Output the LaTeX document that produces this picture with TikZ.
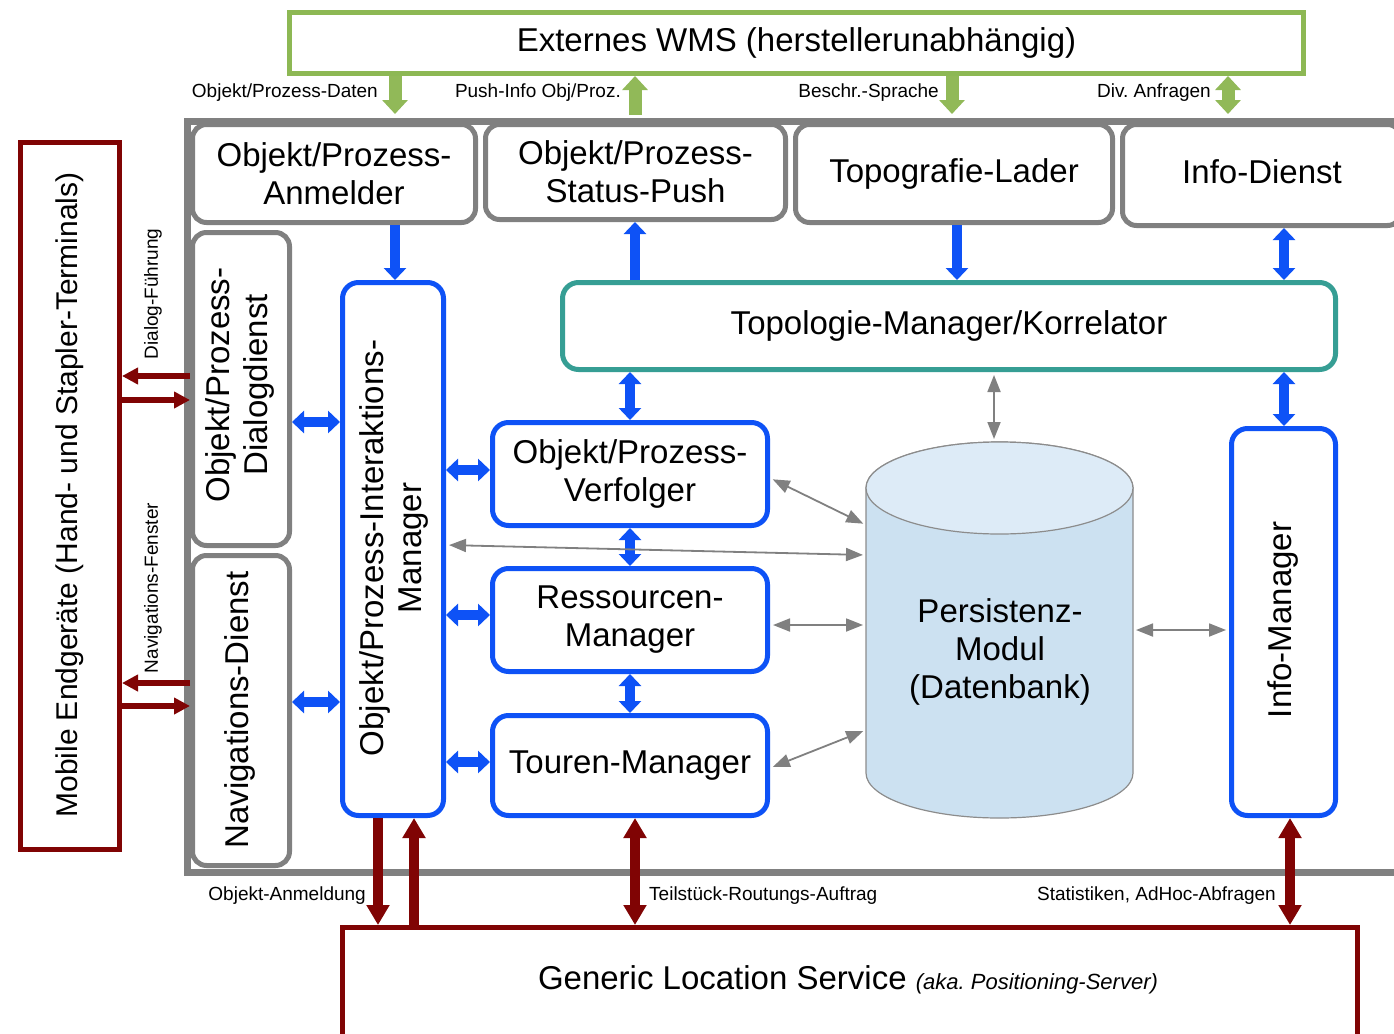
\documentclass[tikz,border=0pt]{standalone}
\usepackage{fontspec}
\setmainfont{Liberation Sans}
\usetikzlibrary{arrows.meta}
\frenchspacing

\definecolor{wmsgreen}{RGB}{141,184,84}
\definecolor{arrowgreen}{RGB}{145,185,88}
\definecolor{framegray}{RGB}{128,128,128}
\definecolor{mgrblue}{RGB}{14,82,246}
\definecolor{linkred}{RGB}{128,4,4}
\definecolor{topoteal}{RGB}{54,158,148}
\definecolor{dbbody}{RGB}{204,225,241}
\definecolor{dbcap}{RGB}{221,235,247}
\definecolor{dbedge}{RGB}{140,140,140}
\definecolor{linkgray}{RGB}{128,128,128}

\tikzset{
  GreenTip/.tip={Triangle[width=25pt,length=14pt]},
  BlueTip/.tip={Triangle[width=22pt,length=12pt]},
  RedTip/.tip={Triangle[width=16pt,length=16pt]},
  RedTipB/.tip={Triangle[width=22pt,length=20pt]},
  GrayTip/.tip={Triangle[width=13pt,length=17pt]},
  bigtext/.style={font=\fontsize{33}{38}\selectfont, align=center},
  smalltext/.style={font=\fontsize{19}{22}\selectfont, inner sep=0pt},
  graybox/.style={draw=framegray, line width=5pt, rounded corners=14pt, fill=white, inner sep=0pt},
  bluebox/.style={draw=mgrblue, line width=5pt, rounded corners=16pt, fill=white, inner sep=0pt},
  redbox/.style={draw=linkred, line width=5pt, fill=white, inner sep=0pt},
  greenlink/.style={draw=arrowgreen, line width=13pt},
  bluelink/.style={draw=mgrblue, line width=10pt},
  redlink/.style={draw=linkred, line width=6pt},
  redlinkb/.style={draw=linkred, line width=10pt},
  graylink/.style={draw=linkgray, line width=1.8pt, GrayTip-GrayTip, shorten <=3pt, shorten >=3pt},
}

\begin{document}
\begin{tikzpicture}[x=1pt,y=-1pt]
\useasboundingbox (0,0) rectangle (1394,1033);
\clip (0,0) rectangle (1394,1033);
\fill[white] (0,0) rectangle (1394,1033);

% frame of the positioning platform
\draw[framegray, line width=7pt] (1420,121) -- (187,121) -- (187,872) -- (1420,872);

% external warehouse management system
\node[draw=wmsgreen, line width=5pt, fill=white, minimum width=1014pt, minimum height=61pt, bigtext] (wms) at (796.5,43) {Externes WMS (herstellerunabhängig)};

% service row at the top
\node[graybox, minimum width=283pt, minimum height=98pt, bigtext] (anm) at (334,173.5) {Objekt/Prozess-\\Anmelder};
\node[graybox, minimum width=300pt, minimum height=95pt, bigtext] (spush) at (635.5,172) {Objekt/Prozess-\\Status-Push};
\node[graybox, minimum width=317pt, minimum height=98pt, bigtext] (tlad) at (954,173.5) {Topografie-Lader};
\node[graybox, minimum width=279pt, minimum height=101pt] (idienst) at (1262,175) {};
\node[bigtext] (idiensttext) at (1262,172) {Info-Dienst};

% services for the mobile devices
\node[graybox, minimum width=97pt, minimum height=313pt] (dlg) at (241,389) {};
\node[bigtext, rotate=90] (dlgtext) at (240,385) {Objekt/Prozess-\\Dialogdienst};
\node[graybox, minimum width=97pt, minimum height=310pt] (nav) at (241,710.5) {};
\node[bigtext, rotate=90] (navtext) at (240,710) {Navigations-Dienst};

% core managers
\node[bluebox, minimum width=101pt, minimum height=533pt] (iam) at (393,549) {};
\node[bigtext, rotate=90] (iamtext) at (394,548) {Objekt/Prozess-Interaktions-\\Manager};
\node[bluebox, minimum width=275pt, minimum height=103pt, bigtext] (verf) at (630,474) {Objekt/Prozess-\\Verfolger};
\node[bluebox, minimum width=275pt, minimum height=103pt, bigtext] (res) at (630,620) {Ressourcen-\\Manager};
\node[bluebox, minimum width=275pt, minimum height=100pt, bigtext] (tour) at (630,765.5) {Touren-Manager};
\node[bluebox, minimum width=104pt, minimum height=387pt] (imgr) at (1283.5,622) {};
\node[bigtext, rotate=90] (imgrtext) at (1283,620) {Info-Manager};
\node[draw=topoteal, line width=5pt, rounded corners=16pt, fill=white, minimum width=773pt, minimum height=87pt, bigtext] (topo) at (949,326) {Topologie-Manager/Korrelator};

% persistence module (database cylinder)
\node[minimum width=267pt, minimum height=376pt, inner sep=0pt, outer sep=0pt] (db) at (999.5,630) {};
\filldraw[fill=dbbody, draw=dbedge, line width=1.2pt]
  (866,488) -- (866,773)
  arc[start angle=180, end angle=360, x radius=133.5pt, y radius=45pt]
  -- (1133,488)
  arc[start angle=0, end angle=180, x radius=133.5pt, y radius=46pt] -- cycle;
\filldraw[fill=dbcap, draw=dbedge, line width=1.2pt]
  (999.5,488) ellipse[x radius=133.5pt, y radius=46pt];
\node[bigtext] (dbtext) at (1000,652) {Persistenz-\\Modul\\(Datenbank)};

% mobile terminals and location service
\node[redbox, minimum width=99pt, minimum height=707pt] (mob) at (70,496) {};
\node[rotate=90, font=\fontsize{30}{36}\selectfont] (mobtext) at (70,495) {Mobile Endgeräte (Hand- und Stapler-Terminals)};
\node[redbox, minimum width=1015pt, minimum height=110pt] (gls) at (850,982.5) {};
\node[font=\fontsize{33}{38}\selectfont] (glstext) at (848,980) {Generic Location Service {\itshape\fontsize{22}{26}\selectfont (aka. Positioning-Server)}};

% links to the WMS
\draw[greenlink, -GreenTip] (wms.south -| 395,0) -- (395,114);
\draw[greenlink, -GreenTip] (635,115) -- (wms.south -| 635,0);
\draw[greenlink, -GreenTip] (wms.south -| 952,0) -- (952,114);
\draw[greenlink, GreenTip-GreenTip] (wms.south -| 1228,0) -- (1228,114);
\node[smalltext, anchor=east] (lbl1) at (378,93) {Objekt/Prozess-Daten};
\node[smalltext, anchor=east] (lbl2) at (621,93) {Push-Info Obj/Proz.};
\node[smalltext, anchor=east] (lbl3) at (939,93) {Beschr.-Sprache};
\node[smalltext, anchor=east] (lbl4) at (1211,93) {Div. Anfragen};

% internal links
\draw[bluelink, -BlueTip] (anm.south -| 395,0) -- (iam.north -| 395,0);
\draw[bluelink, -BlueTip] (topo.north -| 635,0) -- (spush.south -| 635,0);
\draw[bluelink, -BlueTip] (tlad.south -| 957,0) -- (topo.north -| 957,0);
\draw[bluelink, BlueTip-BlueTip] (idienst.south -| 1284,0) -- (topo.north -| 1284,0);
\draw[bluelink, BlueTip-BlueTip] (topo.south -| 630,0) -- (verf.north -| 630,0);
\draw[bluelink, BlueTip-BlueTip] (topo.south -| 1284,0) -- (imgr.north -| 1284,0);
\draw[bluelink, BlueTip-BlueTip] (dlg.east |- 0,422) -- (iam.west |- 0,422);
\draw[bluelink, BlueTip-BlueTip] (nav.east |- 0,702) -- (iam.west |- 0,702);
\draw[bluelink, BlueTip-BlueTip] (iam.east |- 0,470) -- (verf.west |- 0,470);
\draw[bluelink, BlueTip-BlueTip] (iam.east |- 0,615) -- (res.west |- 0,615);
\draw[bluelink, BlueTip-BlueTip] (iam.east |- 0,762) -- (tour.west |- 0,762);
\draw[bluelink, BlueTip-BlueTip] (verf.south -| 630,0) -- (res.north -| 630,0);
\draw[bluelink, BlueTip-BlueTip] (res.south -| 630,0) -- (tour.north -| 630,0);

% database access
\draw[graylink] (topo.south -| 994,0) -- (db.north -| 994,0);
\draw[graylink] (verf.east |- 0,478) -- (db.west |- 0,525);
\draw[graylink] (iam.east |- 0,545) -- (db.west |- 0,555);
\draw[graylink] (res.east |- 0,625) -- (db.west |- 0,625);
\draw[graylink] (tour.east |- 0,768) -- (db.west |- 0,730);
\draw[graylink] (db.east |- 0,630) -- (imgr.west |- 0,630);

% mobile device links
\draw[redlink, -RedTip] (dlg.west |- 0,376) -- (mob.east |- 0,376);
\draw[redlink, -RedTip] (mob.east |- 0,400) -- (dlg.west |- 0,400);
\draw[redlink, -RedTip] (nav.west |- 0,683) -- (mob.east |- 0,683);
\draw[redlink, -RedTip] (mob.east |- 0,706) -- (nav.west |- 0,706);
\node[smalltext, rotate=90] (lbl5) at (153,294) {Dialog-Führung};
\node[smalltext, rotate=90] (lbl6) at (153,588) {Navigations-Fenster};

% location service links
\draw[redlinkb, -RedTipB] (iam.south -| 378,0) -- (gls.north -| 378,0);
\draw[redlinkb, -RedTipB] (gls.north -| 414,0) -- (iam.south -| 414,0);
\draw[redlinkb, RedTipB-RedTipB] (tour.south -| 635,0) -- (gls.north -| 635,0);
\draw[redlinkb, RedTipB-RedTipB] (imgr.south -| 1290,0) -- (gls.north -| 1290,0);
\node[smalltext, anchor=east] (lbl7) at (366,896) {Objekt-Anmeldung};
\node[smalltext, anchor=west] (lbl8) at (649,896) {Teilstück-Routungs-Auftrag};
\node[smalltext, anchor=east] (lbl9) at (1276,896) {Statistiken, AdHoc-Abfragen};
\end{tikzpicture}
\end{document}
